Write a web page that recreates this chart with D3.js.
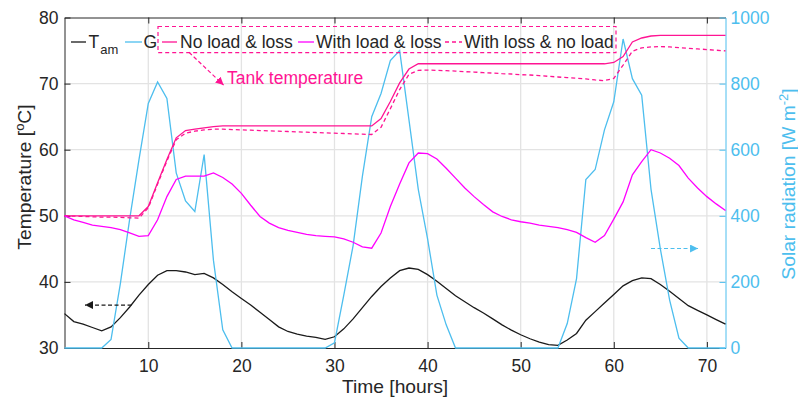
<!DOCTYPE html>
<html>
<head>
<meta charset="utf-8">
<script src="https://cdn.jsdelivr.net/npm/d3@7"></script>
<style>
  body { margin: 0; background: #fff; }
  svg { display: block; font-family: "Liberation Sans", Arial, Helvetica, sans-serif; }
</style>
</head>
<body>
<svg width="798" height="401"></svg>
<script>
// hourly values, hour 1..72
const hours = d3.range(1, 73);

const tAmbient = [35.2, 34.0, 33.6, 33.1, 32.6, 33.2, 34.6, 36.2, 38.0, 39.6,
  41.0, 41.7, 41.7, 41.5, 41.1, 41.3, 40.6, 39.6, 38.5, 37.5,
  36.5, 35.4, 34.3, 33.2, 32.5, 32.1, 31.8, 31.6, 31.3, 31.7,
  32.9, 34.4, 36.1, 37.8, 39.3, 40.6, 41.7, 42.1, 41.9, 41.1,
  40.1, 39.0, 37.9, 37.0, 36.1, 35.3, 34.4, 33.5, 32.7, 32.0,
  31.4, 30.9, 30.5, 30.4, 31.2, 32.2, 34.2, 35.5, 36.8, 38.1,
  39.4, 40.2, 40.6, 40.5, 39.6, 38.6, 37.5, 36.4, 35.7, 35.0,
  34.3, 33.6];

const solarG = [0, 0, 0, 0, 0, 26, 195, 390, 570, 740,
  805, 755, 530, 445, 413, 585, 265, 55, 0, 0,
  0, 0, 0, 0, 0, 0, 0, 0, 0, 16,
  160, 310, 520, 700, 770, 870, 900, 690, 480, 330,
  160, 70, 0, 0, 0, 0, 0, 0, 0, 0,
  0, 0, 0, 0, 74, 210, 510, 540, 660, 745,
  935, 815, 765, 480, 300, 145, 30, 0, 0, 0,
  0, 0];

const noLoadLoss = [50, 50, 50, 50, 50, 50, 50, 50, 50, 51.4,
  55.0, 58.5, 61.8, 62.9, 63.1, 63.3, 63.5, 63.6, 63.6, 63.6,
  63.6, 63.6, 63.6, 63.6, 63.6, 63.6, 63.6, 63.6, 63.6, 63.6,
  63.6, 63.6, 63.6, 63.6, 64.7, 67.3, 70.1, 72.2, 73.0, 73.0,
  73.0, 73.0, 73.0, 73.0, 73.0, 73.0, 73.0, 73.0, 73.0, 73.0,
  73.0, 73.0, 73.0, 73.0, 73.0, 73.0, 73.0, 73.0, 73.0, 73.2,
  74.1, 76.3, 76.9, 77.2, 77.3, 77.3, 77.3, 77.3, 77.3, 77.3,
  77.3, 77.3];

const withLoadLoss = [50.0, 49.4, 49.0, 48.6, 48.4, 48.2, 47.9, 47.4, 46.9, 47.0,
  49.4, 52.9, 55.5, 56.0, 56.0, 56.0, 56.5, 55.8, 54.8, 53.4,
  51.6, 49.9, 48.9, 48.2, 47.8, 47.5, 47.2, 47.0, 46.9, 46.8,
  46.5, 46.0, 45.3, 45.1, 47.4, 51.4, 54.8, 58.0, 59.5, 59.4,
  58.6, 57.2, 55.7, 54.2, 52.9, 51.7, 50.6, 49.9, 49.4, 49.1,
  48.9, 48.6, 48.4, 48.2, 47.9, 47.5, 46.7, 46.0, 47.0, 49.5,
  52.1, 56.2, 58.2, 60.0, 59.5, 58.7, 57.6, 55.7, 54.2, 52.9,
  51.8, 50.8];

const lossNoLoad = [50.0, 49.95, 49.9, 49.85, 49.8, 49.8, 49.75, 49.7, 49.65, 51.2,
  54.8, 58.3, 61.5, 62.5, 62.8, 63.0, 63.1, 63.1, 63.05, 63.0,
  62.95, 62.9, 62.85, 62.8, 62.75, 62.7, 62.65, 62.6, 62.55, 62.5,
  62.45, 62.4, 62.35, 62.3, 63.4, 66.2, 69.1, 71.4, 72.0, 72.05,
  72.0, 71.95, 71.9, 71.8, 71.75, 71.65, 71.6, 71.5, 71.45, 71.35,
  71.3, 71.2, 71.1, 71.0, 70.9, 70.8, 70.7, 70.55, 70.45, 70.8,
  72.8, 74.9, 75.4, 75.55, 75.6, 75.55, 75.45, 75.35, 75.25, 75.15,
  75.05, 74.95];

const xTicks = [10, 20, 30, 40, 50, 60, 70];
const tTicks = [30, 40, 50, 60, 70, 80];
const gTicks = [0, 200, 400, 600, 800, 1000];

const blue = "#4DBEEE", pink = "#ff1493", magenta = "#ff00ff", ink = "#262626";
const fs = 17.5, fsLabel = 19.25;

const svg = d3.select("svg");
const pLeft = 64.5, pRight = 725.5, pTop = 17.5, pBottom = 348;

const x = d3.scaleLinear().domain([1, 72]).range([pLeft, pRight]);
const yT = d3.scaleLinear().domain([30, 80]).range([pBottom, pTop]);
const yG = d3.scaleLinear().domain([0, 1000]).range([pBottom, pTop]);

// arrow heads
const defs = svg.append("defs");
[["arrBlack", "#1a1a1a"], ["arrBlue", blue], ["arrPink", pink]].forEach(([id, c]) => {
  defs.append("marker")
    .attr("id", id)
    .attr("viewBox", "0 0 10 10")
    .attr("refX", 10).attr("refY", 5)
    .attr("markerWidth", 8).attr("markerHeight", 8)
    .attr("markerUnits", "userSpaceOnUse")
    .attr("orient", "auto")
    .append("path")
    .attr("d", "M0,0L10,5L0,10Z")
    .attr("fill", c);
});

// grid
const grid = svg.append("g").attr("stroke", "#e3e3e3").attr("stroke-width", 1.3);
grid.selectAll(".gx").data(xTicks).join("line")
  .attr("x1", d => x(d)).attr("x2", d => x(d))
  .attr("y1", pTop).attr("y2", pBottom);
grid.selectAll(".gy").data([40, 50, 60, 70]).join("line")
  .attr("x1", pLeft).attr("x2", pRight)
  .attr("y1", d => yT(d)).attr("y2", d => yT(d));

// axes
function styleAxis(g, color) {
  g.selectAll("path, line").attr("stroke", color).attr("stroke-width", 1);
  g.selectAll("text").attr("fill", color).attr("font-size", fs);
  g.attr("font-family", null);
}

svg.append("g").attr("transform", `translate(0,${pTop})`)
  .call(d3.axisTop(x).tickValues(xTicks).tickSize(-6).tickSizeOuter(0).tickFormat(""))
  .call(g => styleAxis(g, ink));

svg.append("g").attr("transform", `translate(0,${pBottom})`)
  .call(d3.axisBottom(x).tickValues(xTicks).tickSize(-6).tickSizeOuter(0).tickPadding(12))
  .call(g => styleAxis(g, ink));

svg.append("g").attr("transform", `translate(${pLeft},0)`)
  .call(d3.axisLeft(yT).tickValues(tTicks).tickSize(-6).tickSizeOuter(0).tickPadding(6))
  .call(g => styleAxis(g, ink));

svg.append("g").attr("transform", `translate(${pRight},0)`)
  .call(d3.axisRight(yG).tickValues(gTicks).tickSize(-6).tickSizeOuter(0).tickPadding(5).tickFormat(d3.format("d")))
  .call(g => styleAxis(g, blue));

// lines
const lineT = d3.line().x((d, i) => x(hours[i])).y(d => yT(d));
const lineG = d3.line().x((d, i) => x(hours[i])).y(d => yG(d));

const series = [
  { v: tAmbient, line: lineT, color: "#1a1a1a", dash: null },
  { v: solarG, line: lineG, color: blue, dash: null },
  { v: lossNoLoad, line: lineT, color: pink, dash: "4,3" },
  { v: noLoadLoss, line: lineT, color: pink, dash: null },
  { v: withLoadLoss, line: lineT, color: magenta, dash: null }
];
svg.append("g").selectAll("path").data(series).join("path")
  .attr("d", d => d.line(d.v))
  .attr("fill", "none")
  .attr("stroke", d => d.color)
  .attr("stroke-width", 1.3)
  .attr("stroke-dasharray", d => d.dash);

// axis titles
svg.append("text")
  .attr("transform", `translate(${(pLeft + pRight) / 2},393)`)
  .attr("text-anchor", "middle").attr("font-size", fsLabel).attr("fill", ink)
  .text("Time [hours]");

const tl = svg.append("text")
  .attr("transform", "translate(31,177) rotate(-90)")
  .attr("text-anchor", "middle").attr("font-size", fsLabel).attr("fill", ink);
tl.append("tspan").text("Temperature [");
tl.append("tspan").attr("dy", -7).attr("font-size", 13).text("o");
tl.append("tspan").attr("dy", 7).text("C]");

const gl = svg.append("text")
  .attr("transform", "translate(795,184) rotate(-90)")
  .attr("text-anchor", "middle").attr("font-size", fsLabel).attr("fill", blue);
gl.append("tspan").text("Solar radiation [W m");
gl.append("tspan").attr("dy", -7).attr("font-size", 13).text("-2");
gl.append("tspan").attr("dy", 7).text("]");

// legend
const leg = svg.append("g").attr("font-size", fs).attr("fill", ink);
const legY = 42, legBase = 48.4;
leg.append("line").attr("x1", 71).attr("x2", 86).attr("y1", legY).attr("y2", legY).attr("stroke", "#1a1a1a").attr("stroke-width", 1.3);
const tam = leg.append("text").attr("x", 88.5).attr("y", legBase);
tam.append("tspan").text("T");
tam.append("tspan").attr("dy", 6).attr("dx", 1).attr("font-size", 13).text("am");
leg.append("line").attr("x1", 125).attr("x2", 142).attr("y1", legY).attr("y2", legY).attr("stroke", blue).attr("stroke-width", 1.3);
leg.append("text").attr("x", 143.5).attr("y", legBase).text("G");

leg.append("rect").attr("x", 158).attr("y", 26.5).attr("width", 458).attr("height", 26.2)
  .attr("fill", "none").attr("stroke", pink).attr("stroke-width", 1.2).attr("stroke-dasharray", "4,3");

const legItems = [
  { x0: 162, x1: 177, tx: 180, color: pink, dash: null, label: "No load & loss" },
  { x0: 298, x1: 314, tx: 316, color: magenta, dash: null, label: "With load & loss" },
  { x0: 445, x1: 462, tx: 464, color: pink, dash: "4,3", label: "With loss & no load" }
];
legItems.forEach(d => {
  leg.append("line").attr("x1", d.x0).attr("x2", d.x1).attr("y1", legY).attr("y2", legY)
    .attr("stroke", d.color).attr("stroke-width", 1.3).attr("stroke-dasharray", d.dash);
  leg.append("text").attr("x", d.tx).attr("y", legBase).text(d.label);
});

// annotations
svg.append("text").attr("x", x(18.45)).attr("y", yT(69.9))
  .attr("font-size", fs).attr("fill", pink).text("Tank temperature");

const arrows = [
  { a: [x(14.37), yT(74.74)], b: [x(18.09), yT(69.77)], color: pink, m: "arrPink" },
  { a: [x(8.2), yT(36.5)], b: [x(3.2), yT(36.5)], color: "#1a1a1a", m: "arrBlack" },
  { a: [x(64.0), yG(301)], b: [x(69.05), yG(301)], color: blue, m: "arrBlue" }
];
svg.append("g").selectAll("line").data(arrows).join("line")
  .attr("x1", d => d.a[0]).attr("y1", d => d.a[1])
  .attr("x2", d => d.b[0]).attr("y2", d => d.b[1])
  .attr("stroke", d => d.color).attr("stroke-width", 1.2)
  .attr("stroke-dasharray", "4,2.5")
  .attr("marker-end", d => `url(#${d.m})`);
</script>
</body>
</html>
